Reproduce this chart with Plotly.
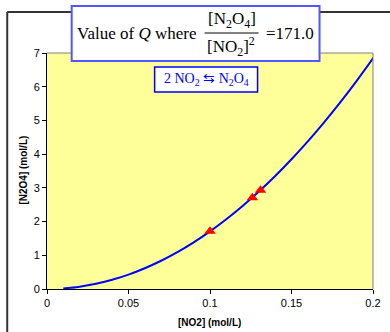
import plotly.graph_objects as go

# ---- data ----
no2_curve = [0.01, 0.02, 0.03, 0.04, 0.05, 0.06, 0.07, 0.08, 0.09, 0.10,
             0.11, 0.12, 0.13, 0.14, 0.15, 0.16, 0.17, 0.18, 0.19, 0.20, 0.2023]
n2o4_curve = [0.0171, 0.0684, 0.154, 0.274, 0.428, 0.616, 0.838, 1.094, 1.385, 1.71,
              2.069, 2.462, 2.890, 3.352, 3.848, 4.378, 4.942, 5.540, 6.173, 6.84, 7.0]
no2_pts = [0.100, 0.126, 0.131]
n2o4_pts = [1.71, 2.71, 2.93]
x_ticks = [0, 0.05, 0.1, 0.15, 0.2]
x_labels = ["0", "0.05", "0.1", "0.15", "0.2"]
y_ticks = [0, 1, 2, 3, 4, 5, 6, 7]

W, H = 390, 332
L, R, T, B = 47.3, 373.5, 53.0, 289.3

def px(x):
    return (x - L) / (R - L)

def py(y):
    return (B - y) / (B - T)

fig = go.Figure()
fig.add_trace(go.Scatter(x=no2_curve, y=n2o4_curve, mode="lines",
                         line=dict(color="#0000FF", width=2, shape="spline"),
                         showlegend=False, hoverinfo="skip"))
fig.add_trace(go.Scatter(x=no2_pts, y=n2o4_pts, mode="markers",
                         marker=dict(symbol="triangle-up", color="#FF0000", size=10),
                         showlegend=False))

axfont = dict(family="Liberation Sans, Arial", size=11, color="#000000")
fig.update_layout(
    width=W, height=H,
    margin=dict(l=L, r=W - R, t=T, b=H - B, pad=0),
    paper_bgcolor="#FFFFFF", plot_bgcolor="#FFFF99",
    xaxis=dict(range=[0, 0.2], tickvals=x_ticks, ticktext=x_labels, automargin=False,
               showgrid=False, zeroline=False, showline=True, linecolor="#000000", linewidth=1,
               ticks="outside", ticklen=4, tickcolor="#000000", tickfont=axfont),
    yaxis=dict(range=[0, 7], tickvals=y_ticks, automargin=False,
               showgrid=False, zeroline=False, showline=True, linecolor="#000000", linewidth=1,
               ticks="outside", ticklen=4, tickcolor="#000000", tickfont=axfont),
)

shapes = [
    # outer chart frame
    dict(type="line", xref="paper", yref="paper", x0=px(7.5), x1=px(7.5), y0=py(12), y1=py(340),
         line=dict(color="#333333", width=2)),
    dict(type="line", xref="paper", yref="paper", x0=px(7.5), x1=px(395), y0=py(12), y1=py(12),
         line=dict(color="#333333", width=2)),
    # plot area border (top/right gray)
    dict(type="line", xref="paper", yref="paper", x0=0, x1=1, y0=1, y1=1,
         line=dict(color="#808080", width=1)),
    dict(type="line", xref="paper", yref="paper", x0=1, x1=1, y0=0, y1=1,
         line=dict(color="#808080", width=1)),
    # title box
    dict(type="rect", xref="paper", yref="paper", x0=px(72), x1=px(320), y0=py(61), y1=py(6),
         fillcolor="#FFFFFF", line=dict(color="#5555FF", width=2), layer="above"),
    # fraction bar
    dict(type="line", xref="paper", yref="paper", x0=px(205), x1=px(259), y0=py(33), y1=py(33),
         line=dict(color="#000000", width=1), layer="above"),
    # reaction box
    dict(type="rect", xref="paper", yref="paper", x0=px(155), x1=px(258), y0=py(92), y1=py(67),
         fillcolor="#FFFFFF", line=dict(color="#0000FF", width=1.5), layer="above"),
]
fig.update_layout(shapes=shapes)

tfont = dict(family="Liberation Serif, Times New Roman", size=17, color="#000000")
bfont = dict(family="Liberation Sans, Arial", size=10, color="#000000")
ann = [
    dict(text="Value of <i>Q</i> where", x=px(198), y=py(33), xanchor="right", yanchor="middle", font=tfont),
    dict(text="[N<sub>2</sub>O<sub>4</sub>]", x=px(232), y=py(20), xanchor="center", yanchor="middle", font=tfont),
    dict(text="[NO<sub>2</sub>]<sup>2</sup>", x=px(231), y=py(46), xanchor="center", yanchor="middle", font=tfont),
    dict(text="=171.0", x=px(264), y=py(33), xanchor="left", yanchor="middle", font=tfont),
    dict(text="2 NO<sub>2</sub> ⇆ N<sub>2</sub>O<sub>4</sub>", x=px(206.5), y=py(79.5), xanchor="center", yanchor="middle",
         font=dict(family="Liberation Serif, Times New Roman", size=14, color="#0000FF")),
    dict(text="<b>[NO2] (mol/L)</b>", x=px(210), y=py(323), xanchor="center", yanchor="middle", font=bfont),
    dict(text="<b>[N2O4] (mol/L)</b>", x=px(24), y=py(170), xanchor="center", yanchor="middle",
         textangle=-90, font=bfont),
]
for a in ann:
    a.update(xref="paper", yref="paper", showarrow=False)
fig.update_layout(annotations=ann)

fig.write_html("out.html", config={"displayModeBar": False},
               post_script="document.body.style.margin='0';")
